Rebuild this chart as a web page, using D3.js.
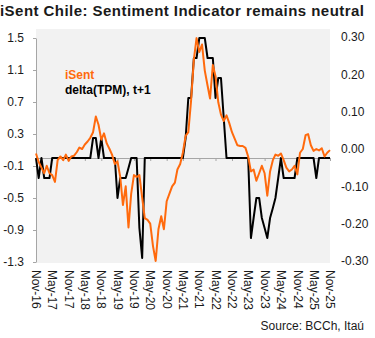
<!DOCTYPE html>
<html>
<head>
<meta charset="utf-8">
<script src="https://cdn.jsdelivr.net/npm/d3@7"></script>
<style>
  body { margin: 0; background: #fff; }
  svg { display: block; font-family: "Liberation Sans", Arial, sans-serif; }
</style>
</head>
<body>
<svg id="chart"></svg>
<script>
// Monthly observations, Nov-16 .. Nov-25
const firstMonth = new Date(2016, 10, 1);

const isent = [
  -0.012, -0.035, -0.05, -0.065, -0.045, -0.065, -0.07, -0.088, -0.03, -0.02,
  -0.03, -0.015, -0.032, -0.02, -0.018, -0.008, 0.004, 0.0, 0.012, 0.02,
  0.03, 0.045, 0.087, 0.065, 0.025, 0.042, 0.015, 0.0, -0.015, -0.04,
  -0.033, -0.075, -0.15, -0.1, -0.21, -0.12, -0.07, -0.075, -0.07, -0.13,
  -0.185, -0.19, -0.2, -0.26, -0.3, -0.215, -0.18, -0.215, -0.14, -0.12,
  -0.1, -0.09, -0.055, -0.04, -0.01, 0.035, 0.045, 0.13, 0.24, 0.297,
  0.26, 0.28, 0.21, 0.17, 0.135, 0.225, 0.195, 0.125, 0.092, 0.075,
  0.09, 0.07, 0.045, 0.028, 0.01, 0.008, 0.008, 0.003, -0.02, -0.06,
  -0.055, -0.085, -0.065, -0.045, -0.065, -0.125, -0.06, -0.03, -0.015, -0.018,
  -0.012, -0.03, -0.05, -0.06, -0.055, -0.045, -0.068, -0.01, 0.0, 0.037,
  0.04, 0.01, -0.005, 0.0, -0.004, 0.002, -0.02, -0.01, -0.003
];

const deltaTpm = [
  0, -0.25, 0, -0.25, -0.25, -0.25, 0, 0, 0, 0,
  0, 0, 0, 0, 0, 0, 0, 0, 0, 0,
  0, 0.25, 0.25, 0, 0.25, 0, 0, 0, 0, 0,
  -0.5, -0.25, -0.25, -0.25, -0.125, 0, 0, 0, -0.875, -1.25,
  0, 0, 0, 0, 0, 0, 0, 0, 0, 0,
  0, 0, 0, 0, 0, 0.25, 0.75, 0.75, 1.25, 1.25,
  1.5, 1.5, 1.5, 1.25, 1.25, 1.25, 0.75, 1.0, 1.0, 0.5,
  0, 0, 0, 0, 0, 0, 0, 0, 0, -1.0,
  -0.75, -0.5, -0.5, -0.75, -0.875, -1.0, -0.75, -0.625, -0.5, -0.25,
  0, -0.25, -0.25, -0.25, -0.25, -0.25, 0, 0, 0, 0,
  0, 0, 0, -0.25, 0, 0, 0, 0, 0
];

const leftTicks = [1.5, 1.1, 0.7, 0.3, -0.1, -0.5, -0.9, -1.3];
const rightTicks = [0.3, 0.2, 0.1, 0.0, -0.1, -0.2, -0.3];
const dateLabels = ["Nov-16", "May-17", "Nov-17", "May-18", "Nov-18", "May-19", "Nov-19",
  "May-20", "Nov-20", "May-21", "Nov-21", "May-22", "Nov-22", "May-23", "Nov-23",
  "May-24", "Nov-24", "May-25", "Nov-25"];

const width = 375, height = 338;
const plot = { left: 36, right: 330, top: 29, bottom: 263 };

const months = isent.map((_, i) => d3.timeMonth.offset(firstMonth, i));
const parseLabel = d3.timeParse("%b-%y");
const tickDates = dateLabels.map(parseLabel);

const x = d3.scaleTime()
  .domain([firstMonth, months[months.length - 1]])
  .range([plot.left, plot.right]);

const yLeft = d3.scaleLinear().domain([-1.3, 1.5]).range([262, 38]);
const yRight = d3.scaleLinear().domain([-0.3, 0.3]).range([261, 37]);

const svg = d3.select("#chart")
  .attr("width", width)
  .attr("height", height);

// title
svg.append("text")
  .attr("x", 0)
  .attr("y", 16)
  .attr("font-size", 15)
  .attr("font-weight", "bold")
  .attr("fill", "#1a1a1a")
  .attr("textLength", 364)
  .attr("lengthAdjust", "spacing")
  .text("iSent Chile: Sentiment Indicator remains neutral");

// plot background
svg.append("rect")
  .attr("x", plot.left)
  .attr("y", plot.top)
  .attr("width", plot.right - plot.left)
  .attr("height", plot.bottom - plot.top)
  .attr("fill", "#f2f2f2");

// left axis
const leftAxisG = svg.append("g")
  .attr("transform", `translate(${plot.left},0)`)
  .call(d3.axisLeft(yLeft)
    .tickValues(leftTicks)
    .tickSize(3)
    .tickSizeOuter(0)
    .tickPadding(9)
    .tickFormat(d => d.toFixed(1)));

// right axis (labels only)
const rightAxisG = svg.append("g")
  .attr("transform", `translate(${plot.right},0)`)
  .call(d3.axisRight(yRight)
    .tickValues(rightTicks)
    .tickSize(0)
    .tickPadding(11)
    .tickFormat(d => d.toFixed(2)));
rightAxisG.select(".domain").remove();

// zero line with month ticks
const zeroAxisG = svg.append("g")
  .attr("transform", `translate(0,${yLeft(0)})`)
  .call(d3.axisBottom(x)
    .tickValues(tickDates)
    .tickSize(3)
    .tickSizeOuter(0)
    .tickFormat(""));

// rotated date labels under the plot
const dateAxisG = svg.append("g")
  .attr("transform", `translate(0,${plot.bottom + 7})`)
  .call(d3.axisBottom(x)
    .tickValues(tickDates)
    .tickSize(0)
    .tickFormat(d3.timeFormat("%b-%y")));
dateAxisG.select(".domain").remove();
dateAxisG.selectAll("text")
  .attr("transform", "rotate(90)")
  .attr("x", 0)
  .attr("y", 0)
  .attr("dy", "0.36em")
  .style("text-anchor", "start");

[leftAxisG, rightAxisG, zeroAxisG, dateAxisG].forEach(g => {
  g.attr("font-family", null).attr("font-size", 12);
  g.selectAll(".domain, line").attr("stroke", "#a6a6a6");
  g.selectAll("text").attr("fill", "#1a1a1a");
});

// series
const tpmLine = d3.line()
  .x((d, i) => x(months[i]))
  .y(d => yLeft(d));

const isentLine = d3.line()
  .x((d, i) => x(months[i]))
  .y(d => yRight(d));

svg.append("path")
  .datum(deltaTpm)
  .attr("d", tpmLine)
  .attr("fill", "none")
  .attr("stroke", "#000")
  .attr("stroke-width", 2)
  .attr("stroke-linejoin", "round");

svg.append("path")
  .datum(isent)
  .attr("d", isentLine)
  .attr("fill", "none")
  .attr("stroke", "#ff6a0d")
  .attr("stroke-width", 2)
  .attr("stroke-linejoin", "round");

// legend
svg.append("text")
  .attr("x", 65)
  .attr("y", 79)
  .attr("font-size", 12)
  .attr("font-weight", "bold")
  .attr("fill", "#ff6a0d")
  .text("iSent");

svg.append("text")
  .attr("x", 65)
  .attr("y", 94)
  .attr("font-size", 12)
  .attr("font-weight", "bold")
  .attr("fill", "#000")
  .text("delta(TPM), t+1");

// source note
svg.append("text")
  .attr("x", 364)
  .attr("y", 330)
  .attr("text-anchor", "end")
  .attr("font-size", 12)
  .attr("fill", "#1a1a1a")
  .text("Source: BCCh, Itaú");
</script>
</body>
</html>
